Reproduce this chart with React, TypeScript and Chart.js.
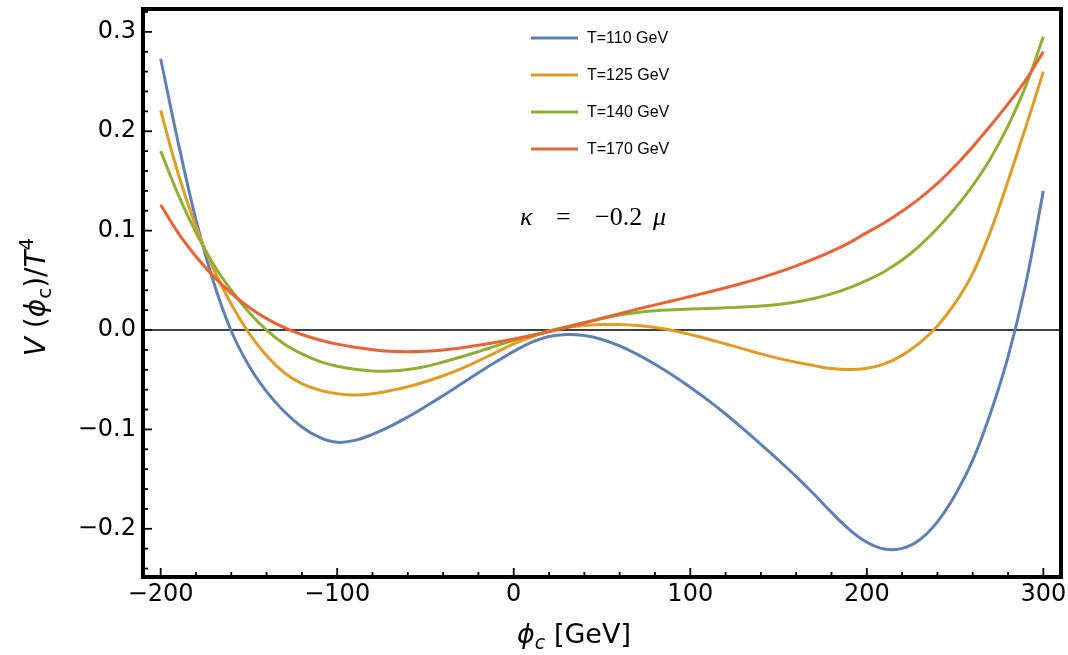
import React, { useEffect, useRef } from "react";
import { Chart, registerables } from "chart.js";

Chart.register(...registerables);

// Field value phi_c [GeV] at which the potential is sampled
const phiC = [
  -200, -190, -180, -170, -160, -150, -140, -130, -120, -110, -100, -90, -80, -70, -60, -50, -40,
  -30, -20, -10, 0, 10, 20, 30, 40, 50, 60, 70, 80, 90, 100, 110, 120, 130, 140, 150, 160, 170,
  180, 190, 200, 210, 220, 230, 240, 250, 260, 270, 280, 290, 300,
];

// V(phi_c)/T^4 for each temperature
const vT110 = [
  0.273, 0.188, 0.111, 0.048, -0.001, -0.036, -0.062, -0.082, -0.0975, -0.108, -0.113, -0.111,
  -0.105, -0.097, -0.0875, -0.077, -0.066, -0.0545, -0.043, -0.032, -0.0215, -0.0125, -0.0065,
  -0.0045, -0.0055, -0.0095, -0.016, -0.0245, -0.0345, -0.0455, -0.0575, -0.0705, -0.0845,
  -0.0995, -0.115, -0.131, -0.1475, -0.165, -0.1835, -0.2005, -0.2135, -0.2203, -0.2197, -0.211,
  -0.193, -0.166, -0.131, -0.084, -0.027, 0.046, 0.14,
];
const vT125 = [
  0.221, 0.157, 0.104, 0.061, 0.026, -0.003, -0.026, -0.043, -0.054, -0.0605, -0.064, -0.0655,
  -0.064, -0.061, -0.057, -0.052, -0.046, -0.039, -0.031, -0.0225, -0.014, -0.007, -0.0015,
  0.0025, 0.0045, 0.0055, 0.0055, 0.0045, 0.0025, -0.0005, -0.0045, -0.009, -0.014, -0.019,
  -0.024, -0.0285, -0.0325, -0.0358, -0.0388, -0.0398, -0.0385, -0.034, -0.0255, -0.013, 0.004,
  0.027, 0.057, 0.099, 0.15, 0.204, 0.26,
];
const vT140 = [
  0.18, 0.136, 0.098, 0.066, 0.04, 0.018, 0.0, -0.014, -0.024, -0.0315, -0.0365, -0.0395,
  -0.0412, -0.0413, -0.0398, -0.0367, -0.0322, -0.0272, -0.0217, -0.0159, -0.0104, -0.0054,
  -0.0009, 0.0034, 0.0076, 0.0116, 0.0151, 0.0176, 0.0193, 0.0203, 0.0211, 0.0217, 0.0223,
  0.0231, 0.0241, 0.0257, 0.0282, 0.0317, 0.0364, 0.0424, 0.0499, 0.0589, 0.0704, 0.0849,
  0.1024, 0.1224, 0.1454, 0.1724, 0.2054, 0.2454, 0.295,
];
const vT170 = [
  0.126, 0.0975, 0.074, 0.054, 0.037, 0.023, 0.0115, 0.0025, -0.0045, -0.01, -0.0142, -0.0174,
  -0.0198, -0.0213, -0.0218, -0.0213, -0.02, -0.018, -0.0154, -0.0124, -0.0091, -0.0055,
  -0.0016, 0.0026, 0.0071, 0.0118, 0.0165, 0.021, 0.0253, 0.0295, 0.0337, 0.038, 0.0425,
  0.0473, 0.0525, 0.0582, 0.0645, 0.0715, 0.0792, 0.0877, 0.098, 0.108, 0.1195, 0.1325, 0.1475,
  0.165, 0.1845, 0.2055, 0.2275, 0.2515, 0.28,
];

const seriesLabels = ["T=110 GeV", "T=125 GeV", "T=140 GeV", "T=170 GeV"];
const seriesValues = [vT110, vT125, vT140, vT170];
const seriesColors = ["#5E81B5", "#E19C24", "#8FB032", "#EB6235"];

const xTickValues = [-200, -100, 0, 100, 200, 300];
const yTickValues = [-0.2, -0.1, 0, 0.1, 0.2, 0.3];
const xMinorStep = 20;
const yMinorStep = 0.02;

const TICK_FONT = "'DejaVu Sans', sans-serif";
const TITLE_FONT = "'DejaVu Sans', sans-serif";
const LEGEND_FONT = "'Liberation Sans', Arial, sans-serif";
const SERIF = "'Liberation Serif', 'Times New Roman', serif";

const minus = (s: string) => s.replace("-", "\u2212");

type Run = { t: string; font: string; dy?: number };

function runsWidth(ctx: CanvasRenderingContext2D, runs: Run[]) {
  let w = 0;
  for (const r of runs) {
    ctx.font = r.font;
    w += ctx.measureText(r.t).width;
  }
  return w;
}

function drawRuns(ctx: CanvasRenderingContext2D, runs: Run[], x: number, y: number) {
  let cx = x;
  for (const r of runs) {
    ctx.font = r.font;
    ctx.fillText(r.t, cx, y + (r.dy || 0));
    cx += ctx.measureText(r.t).width;
  }
}

// Zero axis line, drawn under the curves
const zeroLinePlugin = {
  id: "zeroLine",
  beforeDatasetsDraw(chart: any) {
    const { ctx, chartArea: a, scales } = chart;
    const y0 = scales.y.getPixelForValue(0);
    ctx.save();
    ctx.strokeStyle = "#000";
    ctx.lineWidth = 1.6;
    ctx.beginPath();
    ctx.moveTo(a.left, y0);
    ctx.lineTo(a.right, y0);
    ctx.stroke();
    ctx.restore();
  },
};

// Frame with inward ticks on the bottom and left edges
const framePlugin = {
  id: "frame",
  afterDatasetsDraw(chart: any) {
    const { ctx, chartArea: a, scales } = chart;
    const xs = scales.x;
    const ys = scales.y;
    ctx.save();
    ctx.strokeStyle = "#000";
    ctx.lineWidth = 1.8;
    ctx.lineCap = "butt";
    for (let v = -200; v <= 300.001; v += xMinorStep) {
      const major = xTickValues.some((t) => Math.abs(t - v) < 1e-6);
      const px = xs.getPixelForValue(v);
      const len = major ? 9 : 5;
      ctx.beginPath();
      ctx.moveTo(px, a.bottom);
      ctx.lineTo(px, a.bottom - len);
      ctx.stroke();
    }
    for (let v = -0.24; v <= 0.3201; v += yMinorStep) {
      const major = yTickValues.some((t) => Math.abs(t - v) < 1e-6);
      const py = ys.getPixelForValue(v);
      const len = major ? 9 : 5;
      ctx.beginPath();
      ctx.moveTo(a.left, py);
      ctx.lineTo(a.left + len, py);
      ctx.stroke();
    }
    ctx.lineWidth = 4;
    ctx.lineJoin = "miter";
    ctx.strokeRect(a.left, a.top, a.right - a.left, a.bottom - a.top);
    ctx.restore();
  },
};

// Axis titles, legend and the coupling annotation
const textPlugin = {
  id: "texts",
  afterDraw(chart: any) {
    const { ctx, chartArea: a } = chart;
    ctx.save();
    ctx.fillStyle = "#000";
    ctx.textBaseline = "alphabetic";
    ctx.textAlign = "left";

    const fs = 27;
    const sub = Math.round(fs * 0.7);
    const xRuns: Run[] = [
      { t: "\u03D5", font: `italic ${fs}px ${TITLE_FONT}` },
      { t: "c", font: `italic ${sub}px ${TITLE_FONT}`, dy: 6 },
      { t: " [GeV]", font: `${fs}px ${TITLE_FONT}` },
    ];
    const xw = runsWidth(ctx, xRuns);
    drawRuns(ctx, xRuns, 574 - xw / 2, 643);

    const yfs = 28;
    const ysub = Math.round(yfs * 0.7);
    const yRuns: Run[] = [
      { t: "V", font: `italic ${yfs}px ${TITLE_FONT}` },
      { t: " (", font: `${yfs}px ${TITLE_FONT}` },
      { t: "\u03D5", font: `italic ${yfs}px ${TITLE_FONT}` },
      { t: "c", font: `${ysub}px ${TITLE_FONT}`, dy: 6 },
      { t: ")/", font: `${yfs}px ${TITLE_FONT}` },
      { t: "T", font: `italic ${yfs}px ${TITLE_FONT}` },
      { t: "4", font: `${ysub}px ${TITLE_FONT}`, dy: -12 },
    ];
    const yw = runsWidth(ctx, yRuns);
    ctx.save();
    ctx.translate(45, 297);
    ctx.rotate(-Math.PI / 2);
    drawRuns(ctx, yRuns, -yw / 2, 0);
    ctx.restore();

    // legend
    const rowY = [38, 75, 112, 149];
    ctx.font = `16px ${LEGEND_FONT}`;
    ctx.textBaseline = "middle";
    seriesLabels.forEach((label, i) => {
      ctx.strokeStyle = seriesColors[i];
      ctx.lineWidth = 3;
      ctx.beginPath();
      ctx.moveTo(531, rowY[i]);
      ctx.lineTo(578, rowY[i]);
      ctx.stroke();
      ctx.fillText(label, 587, rowY[i] + 1);
    });

    // kappa = -0.2 mu
    ctx.textBaseline = "alphabetic";
    const base = 225;
    ctx.font = `italic 26px ${SERIF}`;
    ctx.fillText("\u03BA", 520, base);
    ctx.font = `26px ${SERIF}`;
    ctx.fillText("=", 556, base);
    ctx.fillText("\u22120.2", 595, base);
    ctx.font = `italic 26px ${SERIF}`;
    ctx.fillText("\u03BC", 653, base);
    ctx.restore();
  },
};

export default function App() {
  const canvasRef = useRef<HTMLCanvasElement | null>(null);

  useEffect(() => {
    const canvas = canvasRef.current;
    if (!canvas) return;
    const datasets = seriesLabels.map((label, i) => ({
      label,
      data: phiC.map((x, j) => ({ x, y: seriesValues[i][j] })),
      borderColor: seriesColors[i],
      backgroundColor: seriesColors[i],
      borderWidth: 3,
      pointRadius: 0,
      fill: false,
      tension: 0.4,
      order: seriesLabels.length - i,
    }));

    const chart = new Chart(canvas, {
      type: "line",
      data: { datasets },
      options: {
        animation: false,
        responsive: false,
        devicePixelRatio: 1,
        layout: { autoPadding: false, padding: { top: 9, right: 7, left: 0, bottom: 0 } },
        plugins: { legend: { display: false }, tooltip: { enabled: false } },
        scales: {
          x: {
            type: "linear",
            min: -210,
            max: 310,
            grid: { display: false, drawTicks: false },
            border: { display: false },
            afterBuildTicks: (s: any) => {
              s.ticks = xTickValues.map((value) => ({ value }));
            },
            afterFit: (s: any) => {
              s.height = 78;
              s.paddingLeft = 0;
              s.paddingRight = 0;
            },
            ticks: {
              autoSkip: false,
              maxRotation: 0,
              padding: 3,
              color: "#000",
              font: { family: TICK_FONT, size: 24 },
              callback: (v: any) => minus(String(v)),
            },
          },
          y: {
            type: "linear",
            min: -0.2485,
            max: 0.323,
            grid: { display: false, drawTicks: false },
            border: { display: false },
            afterBuildTicks: (s: any) => {
              s.ticks = yTickValues.map((value) => ({ value }));
            },
            afterFit: (s: any) => {
              s.width = 143;
              s.paddingTop = 0;
              s.paddingBottom = 0;
            },
            ticks: {
              autoSkip: false,
              padding: 7,
              color: "#000",
              font: { family: TICK_FONT, size: 24 },
              callback: (v: any) => minus(Number(v).toFixed(1)),
            },
          },
        },
      },
      plugins: [zeroLinePlugin, framePlugin, textPlugin],
    });
    return () => chart.destroy();
  }, []);

  return (
    <div style={{ position: "absolute", left: 0, top: 0, width: 1068, height: 655, background: "#fff" }}>
      <canvas ref={canvasRef} width={1068} height={655} style={{ width: 1068, height: 655 }} />
    </div>
  );
}
